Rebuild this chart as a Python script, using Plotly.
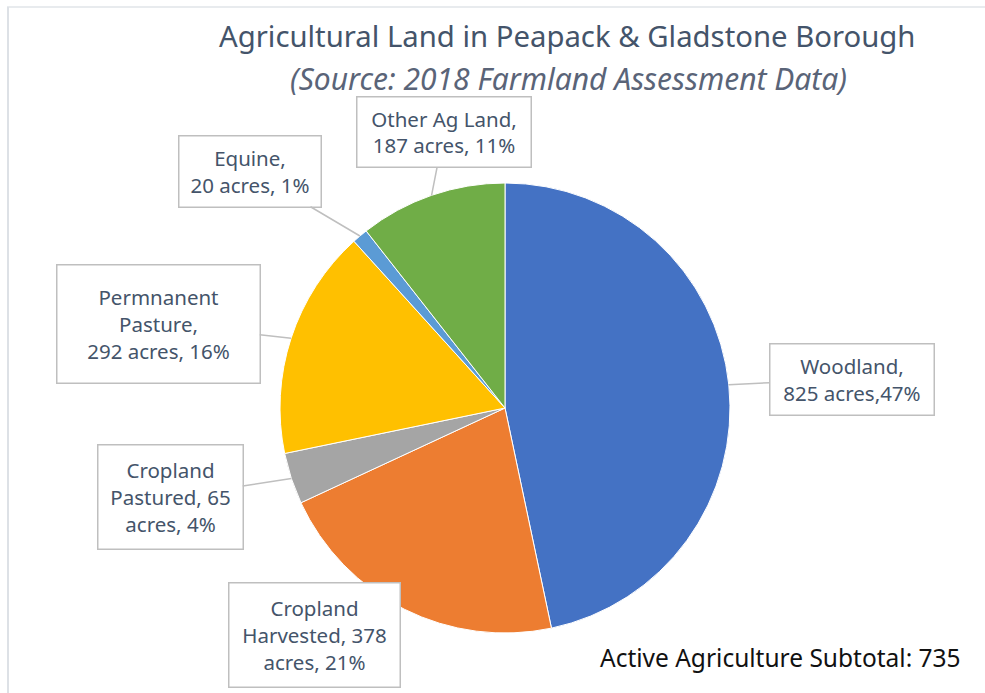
import math
import plotly.graph_objects as go

categories = ["Woodland", "Cropland Harvested", "Cropland Pastured",
              "Permnanent Pasture", "Equine", "Other Ag Land"]
acres = [825, 378, 65, 292, 20, 187]
label_texts = ["Woodland,<br>825 acres,47%",
               "Cropland<br>Harvested, 378<br>acres, 21%",
               "Cropland<br>Pastured, 65<br>acres, 4%",
               "Permnanent<br>Pasture,<br>292 acres, 16%",
               "Equine,<br>20 acres, 1%",
               "Other Ag Land,<br>187 acres, 11%"]
colors = ["#4472C4", "#ED7D31", "#A5A5A5", "#FFC000", "#5B9BD5", "#70AD47"]
title_text = "Agricultural Land in Peapack & Gladstone Borough"
subtitle_text = "(Source: 2018 Farmland Assessment Data)"
subtotal_text = "Active Agriculture Subtotal: 735"

W, H = 985, 693
FONT = "Segoe UI, Noto Sans, Open Sans"
# pie placement (pixels)
cx, cy, r = 505, 408, 225
# label box centers and sizes (pixels)
box_centers = [(852, 379), (314, 635), (170, 497), (158, 324), (250, 171), (444, 132)]
box_sizes = [(163, 70), (170, 103), (144, 103), (202, 117), (141, 70), (173, 69)]
show_leader = [True, False, True, True, True, True]

fig = go.Figure()
fig.add_trace(go.Pie(
    labels=categories, values=acres, sort=False, direction="clockwise",
    rotation=0, marker=dict(colors=colors, line=dict(color="white", width=1)),
    textinfo="none", hoverinfo="label+value+percent", showlegend=False,
    domain=dict(x=[(cx - r) / W, (cx + r) / W], y=[1 - (cy + r) / H, 1 - (cy - r) / H]),
))

total = sum(acres)
annotations = []
cum = 0
for i, v in enumerate(acres):
    mid = (cum + v / 2) / total * 2 * math.pi
    cum += v
    tx = cx + r * math.sin(mid)
    ty = cy - r * math.cos(mid)
    bx, by = box_centers[i]
    bw, bh = box_sizes[i]
    common = dict(text=label_texts[i], xref="x", yref="y",
                  font=dict(family=FONT, size=20.5, color="#44546A"),
                  bgcolor="white", bordercolor="#BFBFBF", borderwidth=1.5, borderpad=0,
                  width=bw, height=bh, align="center", valign="middle")
    if show_leader[i]:
        annotations.append(dict(x=tx, y=ty, ax=bx, ay=by, axref="x", ayref="y",
                                showarrow=True, arrowhead=0, arrowwidth=1.5,
                                arrowcolor="#BFBFBF", standoff=0, **common))
    else:
        annotations.append(dict(x=bx, y=by, showarrow=False, **common))

annotations += [
    dict(text=title_text, x=567, y=36, xref="x", yref="y", showarrow=False,
         font=dict(family=FONT, size=29.3, color="#44546A")),
    dict(text="<i>" + subtitle_text + "</i>", x=568, y=78, xref="x", yref="y", showarrow=False,
         font=dict(family=FONT, size=30, color="#5A6478")),
    dict(text=subtotal_text, x=780, y=657, xref="x", yref="y", showarrow=False,
         font=dict(family=FONT, size=24.5, color="#111111")),
]

shapes = [
    dict(type="line", xref="x", yref="y", x0=7, y0=7, x1=985, y1=7,
         line=dict(color="#E1E4E8", width=1.5)),
    dict(type="line", xref="x", yref="y", x0=8, y0=7, x1=8, y1=693,
         line=dict(color="#DDE1E6", width=2)),
]

fig.update_layout(
    width=W, height=H, margin=dict(l=0, r=0, t=0, b=0),
    paper_bgcolor="white", plot_bgcolor="rgba(0,0,0,0)",
    xaxis=dict(range=[0, W], visible=False, fixedrange=True),
    yaxis=dict(range=[H, 0], visible=False, fixedrange=True),
    annotations=annotations, shapes=shapes,
)

fig.write_html("out.html", config={"displayModeBar": False},
               post_script="document.body.style.margin='0px';")
